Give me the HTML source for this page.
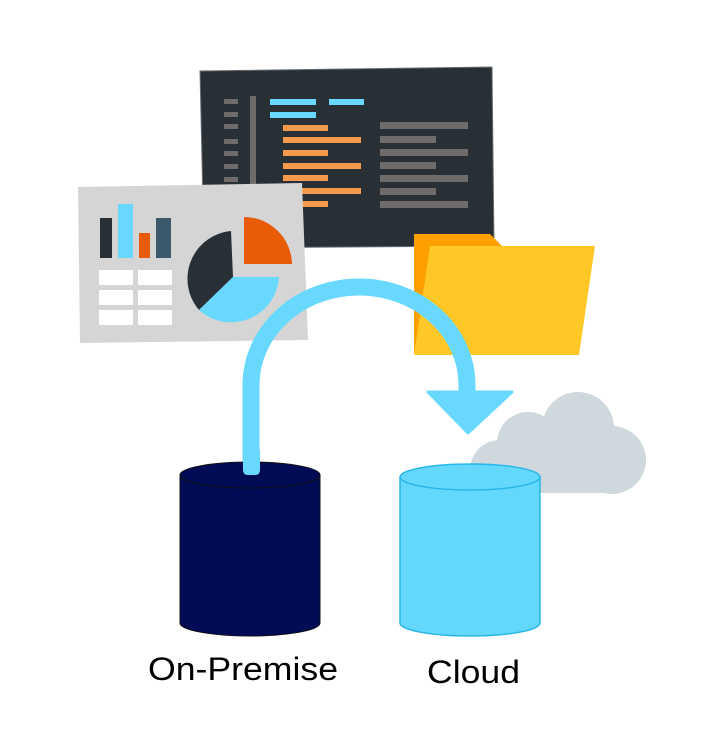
<!DOCTYPE html>
<html><head><meta charset="utf-8"><style>
html,body{margin:0;padding:0;background:#fff;}
svg{display:block;}
</style></head><body>
<svg width="703" height="745" viewBox="0 0 703 745" xmlns="http://www.w3.org/2000/svg">
<!-- code screen -->
<polygon points="200,71 492,67 494,246 204,248" fill="#283036" stroke="#6a6e72" stroke-width="1"/>
<g fill="#6f6b6b">
<rect x="224" y="99" width="14" height="5"/><rect x="224" y="112" width="14" height="5"/><rect x="224" y="124" width="14" height="5"/><rect x="224" y="139" width="14" height="5"/><rect x="224" y="151" width="14" height="5"/><rect x="224" y="164" width="14" height="5"/><rect x="224" y="177" width="14" height="5"/>
<rect x="250" y="96" width="6" height="100"/>
<rect x="380" y="122" width="88" height="7"/><rect x="380" y="136" width="56" height="7"/><rect x="380" y="149" width="88" height="7"/><rect x="380" y="162" width="56" height="7"/><rect x="380" y="175" width="88" height="7"/><rect x="380" y="188" width="56" height="7"/><rect x="380" y="201" width="88" height="7"/>
</g>
<g fill="#68d8fe"><rect x="270" y="99" width="46" height="6"/><rect x="329" y="99" width="35" height="6"/><rect x="270" y="112" width="46" height="6"/></g>
<g fill="#f59a4d">
<rect x="283" y="125" width="45" height="6"/><rect x="283" y="137" width="78" height="6"/><rect x="283" y="150" width="45" height="6"/><rect x="283" y="163" width="78" height="6"/><rect x="283" y="175" width="45" height="6"/><rect x="283" y="188" width="78" height="6"/><rect x="283" y="201" width="45" height="6"/>
</g>
<!-- dashboard -->
<polygon points="78,187 302,183 308,340 80,343" fill="#d5d5d5"/>
<rect x="100" y="218" width="12" height="40" fill="#283036"/>
<rect x="118" y="204" width="15" height="54" fill="#68d8fe"/>
<rect x="139" y="233" width="11" height="25" fill="#e85b07"/>
<rect x="156" y="218" width="15" height="40" fill="#3b596b"/>
<g fill="#fff"><rect x="99" y="270" width="34" height="15"/><rect x="138" y="270" width="34" height="15"/><rect x="99" y="290" width="34" height="15"/><rect x="138" y="290" width="34" height="15"/><rect x="99" y="310" width="34" height="15"/><rect x="138" y="310" width="34" height="15"/></g>
<path d="M233,277 L231,231 A48,48 0 0 0 199,310 Z" fill="#283036"/>
<path d="M233,277 L199,310 A48,48 0 0 0 279,277 Z" fill="#68d8fe"/>
<path d="M244,264 L244,217 A48,48 0 0 1 292,264 Z" fill="#e85b07"/>
<!-- folder -->
<polygon points="414,234 490,234 502,246 502,355 414,355" fill="#ffa000"/>
<polygon points="430,246 595,246 579,355 414,355" fill="#ffc827"/>
<!-- cloud -->
<g fill="#cfd8dc">
<circle cx="578" cy="428" r="36"/>
<circle cx="528" cy="443" r="31"/>
<circle cx="612" cy="460" r="34"/>
<circle cx="500" cy="470" r="30"/>
<rect x="500" y="440" width="112" height="53"/>
</g>
<!-- arrow -->
<path d="M251,470 L251,385 A108,98 0 0 1 467,385 L467,395" fill="none" stroke="#68d8fe" stroke-width="17" stroke-linecap="round"/>
<polygon points="428,392 512,392 468,433" fill="#68d8fe" stroke="#68d8fe" stroke-width="3" stroke-linejoin="round"/>
<!-- cylinders -->
<path d="M180,475 L180,623 A70,13 0 0 0 320,623 L320,475 Z" fill="#020b56" stroke="#111" stroke-width="1"/>
<ellipse cx="250" cy="475" rx="70" ry="13" fill="#020b56" stroke="#111" stroke-width="1"/>
<path d="M243,450 L243,470 Q243,475 248,475 L255,475 Q260,475 260,470 L260,450 Z" fill="#68d8fe"/>
<path d="M400,477 L400,623 A70,13 0 0 0 540,623 L540,477 Z" fill="#64d7fd" stroke="#29b6e8" stroke-width="1.5"/>
<ellipse cx="470" cy="477" rx="70" ry="13" fill="#64d7fd" stroke="#29b6e8" stroke-width="1.5"/>
<text x="148" y="680" font-family="Liberation Sans, sans-serif" font-size="32" textLength="190" lengthAdjust="spacingAndGlyphs" fill="#000">On-Premise</text>
<text x="427" y="683" font-family="Liberation Sans, sans-serif" font-size="32" textLength="93" lengthAdjust="spacingAndGlyphs" fill="#000">Cloud</text>
</svg>
</body></html>
